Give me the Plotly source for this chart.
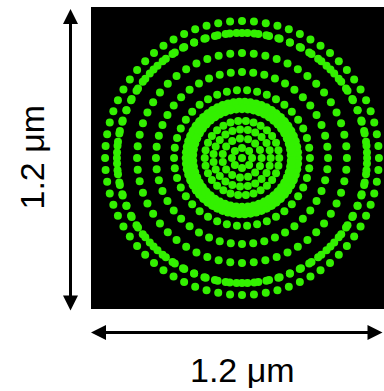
import numpy as np
import plotly.graph_objects as go

# Outer dotted rings (micrometres): radius, number of dots, angular phase (deg)
ring_radius_um = [0.544, 0.497, 0.497, 0.417, 0.342, 0.270, 0.148, 0.114, 0.078, 0.040, 0.0]
ring_dot_count = [72, 64, 72, 56, 48, 42, 30, 23, 15, 8, 1]
ring_phase_deg = [0, 0, 2.5, 0, 0, 0, 0, 0, 0, 0, 0]

# Dense bright band around the central disc
band_radius_um = [0.221, 0.197]
band_dot_count = [62, 54]
band_phase_deg = [0, 3.3]

field_size_um = 1.2
scale_label = "1.2 μm"


def ring_points(radii, counts, phases):
    xs, ys = [], []
    for r, n, ph in zip(radii, counts, phases):
        ang = np.deg2rad(ph) + 2 * np.pi * np.arange(n) / n
        xs.extend(r * np.cos(ang))
        ys.extend(r * np.sin(ang))
    return xs, ys


rx, ry = ring_points(ring_radius_um, ring_dot_count, ring_phase_deg)
bx, by = ring_points(band_radius_um, band_dot_count, band_phase_deg)

W, H = 384, 391
ml, mr, mt, mb = 91, 0, 7, 82
pw, ph_ = W - ml - mr, H - mt - mb
half = field_size_um / 2
ppu = ph_ / field_size_um
xr = [-half, -half + pw / ppu]

green = "#33f000"
fig = go.Figure()
fig.add_trace(go.Scatter(
    x=bx, y=by, mode="markers",
    marker=dict(size=9.5, color=green, line=dict(width=0)),
    hoverinfo="skip", cliponaxis=False,
))
fig.add_trace(go.Scatter(
    x=rx, y=ry, mode="markers",
    marker=dict(size=8, color=green, line=dict(width=0)),
    hoverinfo="skip", cliponaxis=False,
))


def px_x(p):
    return (p - ml) / pw


def px_y(p):
    return (mt + ph_ - p) / ph_


font = dict(family="Liberation Sans, Arial, sans-serif", size=34, color="black")

annotations = [
    dict(xref="paper", yref="paper", x=px_x(70.5), y=px_y(9), ax=0, ay=303,
         axref="pixel", ayref="pixel", text="", showarrow=True,
         arrowside="end+start", arrowhead=2, startarrowhead=2,
         arrowsize=1, startarrowsize=1, arrowwidth=3, arrowcolor="black",
         standoff=0, startstandoff=0),
    dict(xref="paper", yref="paper", x=px_x(91), y=px_y(332.5), ax=302, ay=0,
         axref="pixel", ayref="pixel", text="", showarrow=True,
         arrowside="end+start", arrowhead=2, startarrowhead=2,
         arrowsize=1, startarrowsize=1, arrowwidth=3, arrowcolor="black",
         standoff=0, startstandoff=0),
    dict(xref="paper", yref="paper", x=px_x(243), y=px_y(370), text=scale_label,
         showarrow=False, xanchor="center", yanchor="middle", font=font),
    dict(xref="paper", yref="paper", x=px_x(31), y=px_y(157.5), text=scale_label,
         showarrow=False, xanchor="center", yanchor="middle", textangle=-90, font=font),
]

fig.update_layout(
    width=W, height=H,
    margin=dict(l=ml, r=mr, t=mt, b=mb, pad=0),
    paper_bgcolor="white", plot_bgcolor="black",
    showlegend=False,
    xaxis=dict(range=xr, visible=False, showgrid=False, zeroline=False, fixedrange=True),
    yaxis=dict(range=[-half, half], visible=False, showgrid=False, zeroline=False, fixedrange=True),
    annotations=annotations,
)

fig.write_html(
    "out.html",
    config={"displayModeBar": False},
    post_script="document.body.style.margin='0';document.body.style.overflow='hidden';",
)
